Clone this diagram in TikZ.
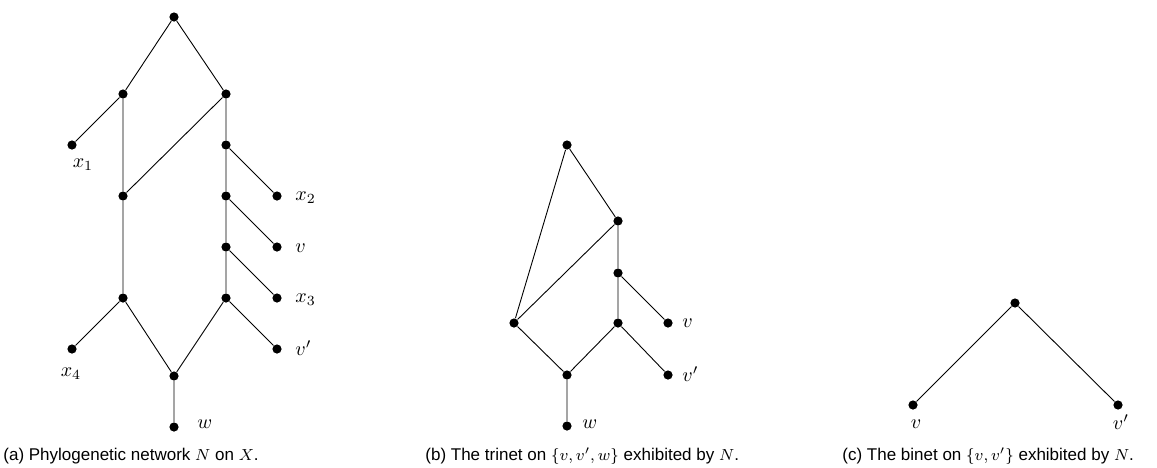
\documentclass[tikz,border=0pt]{standalone}
\usepackage{fontspec}
\setmainfont{Liberation Sans}
\begin{document}
\begin{tikzpicture}[x=0.5pt,y=-0.5pt,
  dot/.style={circle,fill=black,inner sep=0pt,minimum size=4.6pt},
  lab/.style={inner sep=0pt,font=\fontsize{10.2}{12}\selectfont},
  captext/.style={inner sep=0pt,anchor=west,font=\fontsize{8.5}{10}\selectfont},
  conn/.style={line width=0.45pt}]
\useasboundingbox (0,0) rectangle (1157,467);
% (a)
\node[dot] (a0) at (174,17) {};
\node[dot] (a1) at (123,94) {};
\node[dot] (a2) at (226,94) {};
\node[dot] (ax1) at (72,145) {};
\node[dot] (a3) at (123,196) {};
\node[dot] (a4) at (226,145) {};
\node[dot] (ax2) at (277,196) {};
\node[dot] (a5) at (226,196) {};
\node[dot] (av) at (277,247) {};
\node[dot] (a6) at (226,247) {};
\node[dot] (ax3) at (277,298) {};
\node[dot] (a7) at (226,298) {};
\node[dot] (avp) at (277,349) {};
\node[dot] (a8) at (123,298) {};
\node[dot] (ax4) at (72,349) {};
\node[dot] (a9) at (174,376) {};
\node[dot] (aw) at (174,427) {};
\draw[conn] (a0)--(a1) (a0)--(a2) (a1)--(ax1) (a1)--(a3) (a2)--(a3)
  (a2)--(a4) (a4)--(ax2) (a4)--(a5) (a5)--(av) (a5)--(a6) (a6)--(ax3)
  (a6)--(a7) (a7)--(avp) (a3)--(a8) (a8)--(ax4) (a8)--(a9) (a7)--(a9) (a9)--(aw);
\node[lab] (lx1) at (83,165) {$x_1$};
\node[lab,anchor=west] (lx2) at (295,198) {$x_2$};
\node[lab,anchor=west] (lv) at (295,248) {$v$};
\node[lab,anchor=west] (lx3) at (295,300) {$x_3$};
\node[lab,anchor=west] (lvp) at (295,348) {$v'$};
\node[lab] (lx4) at (71,374) {$x_4$};
\node[lab,anchor=west] (lw) at (197,424) {$w$};
% (b)
\node[dot] (b0) at (567,145) {};
\node[dot] (b1) at (618,221) {};
\node[dot] (b2) at (618,273) {};
\node[dot] (bv) at (668,323) {};
\node[dot] (b3) at (618,323) {};
\node[dot] (bvp) at (668,375) {};
\node[dot] (b4) at (514,323) {};
\node[dot] (b5) at (567,375) {};
\node[dot] (bw) at (567,426) {};
\draw[conn] (b0)--(b1) (b0)--(b4) (b1)--(b4) (b1)--(b2) (b2)--(bv) (b2)--(b3)
  (b3)--(bvp) (b3)--(b5) (b4)--(b5) (b5)--(bw);
\node[lab,anchor=west] (mv) at (682,323) {$v$};
\node[lab,anchor=west] (mvp) at (682,374) {$v'$};
\node[lab,anchor=west] (mw) at (582,424) {$w$};
% (c)
\node[dot] (c0) at (1015,303) {};
\node[dot] (cv) at (913,405) {};
\node[dot] (cvp) at (1118,405) {};
\draw[conn] (c0)--(cv) (c0)--(cvp);
\node[lab] (nv) at (916,424) {$v$};
\node[lab] (nvp) at (1121,422) {$v'$};
% captions
\node[captext] (capa) at (3,456) {(a) Phylogenetic network $N$ on $X$.};
\node[captext] (capb) at (425,456) {(b) The trinet on $\{v,v',w\}$ exhibited by $N$.};
\node[captext] (capc) at (842,456) {(c) The binet on $\{v,v'\}$ exhibited by $N$.};
\end{tikzpicture}
\end{document}
